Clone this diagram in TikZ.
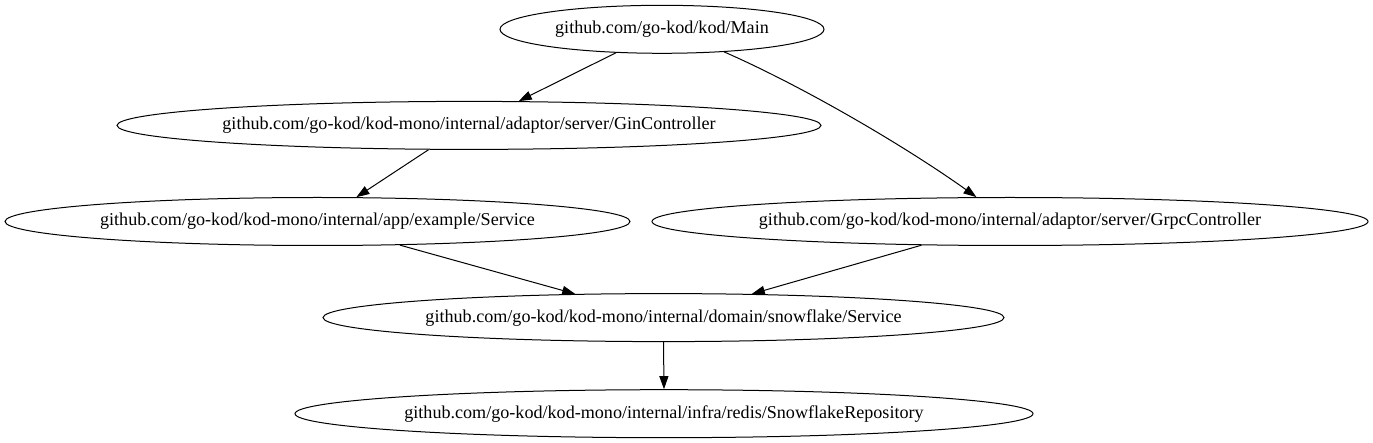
\documentclass[tikz,border=0pt]{standalone}
\usepackage{fontspec}
\setmainfont{Liberation Serif}
\usepackage{tikz}
\usetikzlibrary{shapes.geometric, arrows.meta}
\tikzstyle{graphLayout} = [x = 1pt, y = -1pt]
\tikzstyle{packageStyle} = [draw, ellipse, line width = 1pt, minimum height = 48pt, inner sep = 0pt, font = \fontsize{18.1}{22}\selectfont]
\tikzstyle{dependencyStyle} = [line width = 1pt, -{Triangle[length = 13pt, width = 9pt]}]
\newcommand{\packageNode}[5]{\node [packageStyle, minimum width = #5] (#1) at (#2, #3) {#4};}
\newcommand{\dependency}[2]{\draw [dependencyStyle] (#1) -- (#2);}
\begin{document}
\begin{tikzpicture}[graphLayout]
        \useasboundingbox (0, 0) rectangle (1373, 443);
        \packageNode{main}{662}{29.3}{github.com/go-kod/kod/Main}{324pt}
        \packageNode{gin}{469}{125.4}{github.com/go-kod/kod-mono/internal/adaptor/server/GinController}{704pt}
        \packageNode{example}{317.5}{221.5}{github.com/go-kod/kod-mono/internal/app/example/Service}{625pt}
        \packageNode{grpc}{1010}{221.5}{github.com/go-kod/kod-mono/internal/adaptor/server/GrpcController}{716pt}
        \packageNode{snowflake}{663.5}{317.6}{github.com/go-kod/kod-mono/internal/domain/snowflake/Service}{681pt}
        \packageNode{repository}{664}{413.7}{github.com/go-kod/kod-mono/internal/infra/redis/SnowflakeRepository}{738pt}

        \dependency{main.207}{gin.26}
        \draw [dependencyStyle] (main.-20) .. controls +(80, 35) and +(-70, -50) .. (grpc.144);
        \dependency{gin.211}{example.32}
        \dependency{example.-16}{snowflake.165}
        \dependency{grpc.195.5}{snowflake.15}
        \dependency{snowflake.south}{repository.north}
      \end{tikzpicture}
\end{document}
